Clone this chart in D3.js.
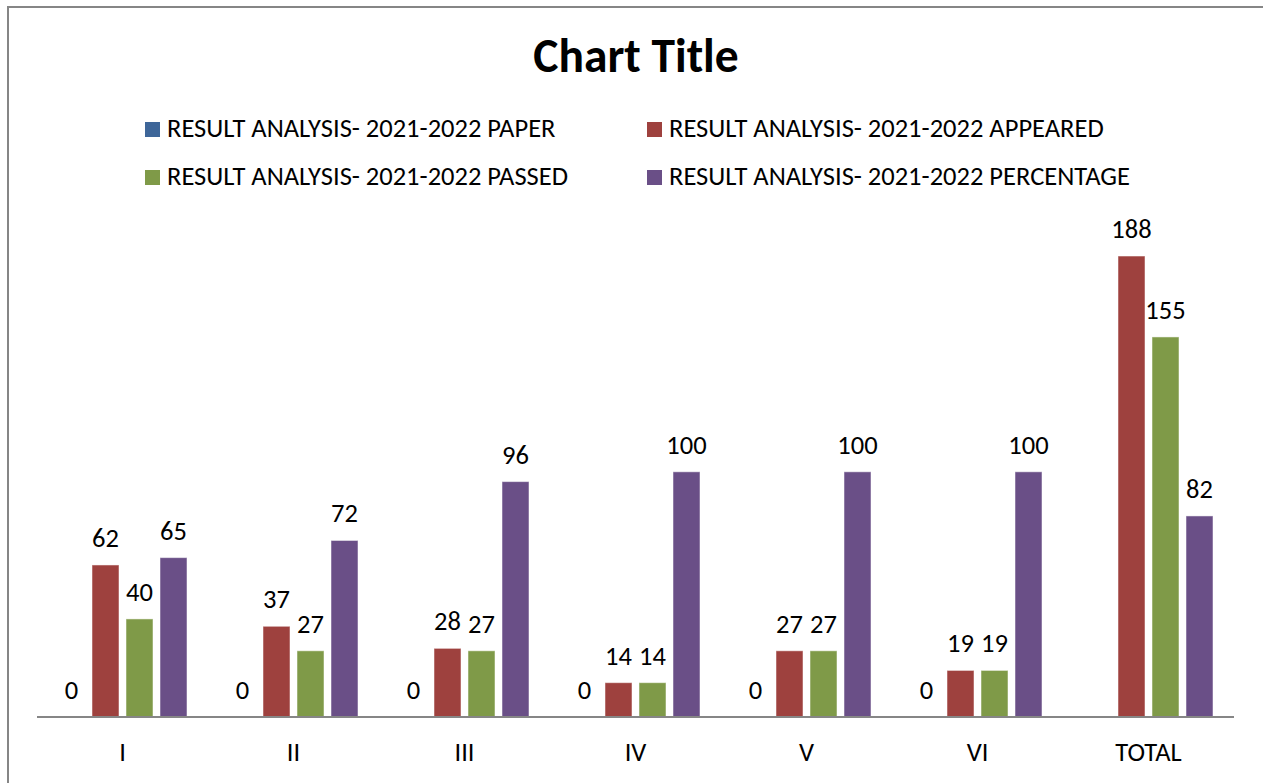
<!DOCTYPE html>
<html>
<head>
<meta charset="utf-8">
<script src="https://cdn.jsdelivr.net/npm/d3@7.9.0/dist/d3.min.js"></script>
<style>
  html, body { margin: 0; padding: 0; background: #fff; }
  svg { display: block; font-family: Carlito, Calibri, Lato, sans-serif; }
</style>
</head>
<body>
<div id="chart"></div>
<script>
const categories = ['I', 'II', 'III', 'IV', 'V', 'VI', 'TOTAL'];
const seriesNames = [
  'RESULT ANALYSIS- 2021-2022 PAPER',
  'RESULT ANALYSIS- 2021-2022 APPEARED',
  'RESULT ANALYSIS- 2021-2022 PASSED',
  'RESULT ANALYSIS- 2021-2022 PERCENTAGE'
];
const paper = [0, 0, 0, 0, 0, 0, null];
const appeared = [62, 37, 28, 14, 27, 19, 188];
const passed = [40, 27, 27, 14, 27, 19, 155];
const percentage = [65, 72, 96, 100, 100, 100, 82];
const colors = ['#3e6699', '#9e413e', '#7f9a48', '#6a4f87'];

const seriesValues = [paper, appeared, passed, percentage];

const width = 1263, height = 783;
const plot = { left: 37, right: 1234, bottom: 717 };
const fontSize = 26.5;

const svg = d3.select('#chart').append('svg')
  .attr('width', width)
  .attr('height', height);

// outer chart border (right and bottom edges fall outside the view)
svg.append('rect')
  .attr('x', 8).attr('y', 7)
  .attr('width', 1258).attr('height', 800)
  .attr('fill', 'none')
  .attr('stroke', '#868686')
  .attr('stroke-width', 2);

svg.append('text')
  .attr('x', 636).attr('y', 72)
  .attr('text-anchor', 'middle')
  .attr('font-weight', 'bold')
  .attr('font-size', 47.5)
  .text('Chart Title');

// legend, 2 columns x 2 rows
const legendPos = [[145, 122], [647, 122], [145, 170], [647, 170]];
const legend = svg.append('g')
  .selectAll('g')
  .data(seriesNames)
  .join('g')
  .attr('transform', (d, i) => `translate(${legendPos[i][0]},${legendPos[i][1]})`);

legend.append('rect')
  .attr('width', 15).attr('height', 15)
  .attr('fill', (d, i) => colors[i]);

legend.append('text')
  .attr('x', 22).attr('y', 15)
  .attr('font-size', fontSize)
  .text(d => d);

const x0 = d3.scaleBand()
  .domain(categories)
  .range([plot.left, plot.right])
  .paddingInner(0.2456)
  .paddingOuter(0.1228);

const x1 = d3.scaleBand()
  .domain(d3.range(seriesNames.length))
  .range([0, x0.bandwidth()])
  .paddingInner(0.206)
  .paddingOuter(0);

const y = d3.scaleLinear()
  .domain([0, 200])
  .range([plot.bottom, 226.6]);

const rows = categories.map((c, ci) => ({
  cat: c,
  vals: seriesValues.map((s, si) => ({ si, v: s[ci] }))
}));

const groups = svg.append('g')
  .selectAll('g')
  .data(rows)
  .join('g')
  .attr('transform', d => `translate(${x0(d.cat)},0)`);

groups.selectAll('rect')
  .data(d => d.vals.filter(e => e.v !== null))
  .join('rect')
  .attr('x', d => x1(d.si))
  .attr('width', x1.bandwidth())
  .attr('y', d => y(d.v))
  .attr('height', d => y(0) - y(d.v))
  .attr('fill', d => colors[d.si])
  .attr('stroke', '#fff')
  .attr('stroke-opacity', 0.5)
  .attr('stroke-width', 1);

groups.selectAll('text')
  .data(d => d.vals.filter(e => e.v !== null))
  .join('text')
  .attr('x', d => x1(d.si) + x1.bandwidth() / 2)
  .attr('y', d => y(d.v) - 18)
  .attr('text-anchor', 'middle')
  .attr('font-size', fontSize)
  .text(d => d.v);

// category axis
const xAxis = d3.axisBottom(x0).tickSize(0).tickPadding(0);
const axisG = svg.append('g')
  .attr('transform', `translate(0,${plot.bottom})`)
  .call(xAxis);
axisG.attr('font-family', null).attr('font-size', null);
axisG.select('.domain')
  .attr('d', `M${plot.left},0H${plot.right}`)
  .attr('stroke', '#868686')
  .attr('stroke-width', 2);
axisG.selectAll('.tick text')
  .attr('y', 44)
  .attr('dy', 0)
  .attr('font-size', fontSize)
  .attr('fill', '#000');
</script>
</body>
</html>
